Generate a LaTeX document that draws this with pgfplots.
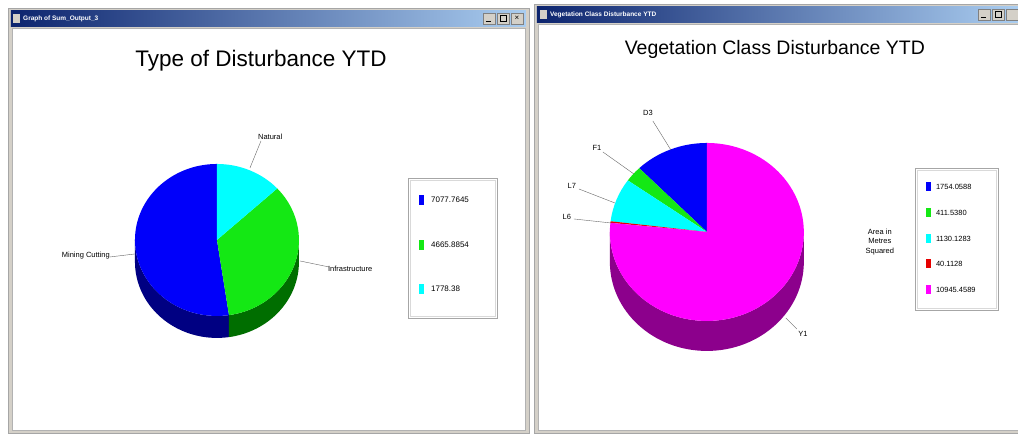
\documentclass[border=0pt]{standalone}
\usepackage{pgfplots}
\usepackage{pgfplotstable}
\pgfplotsset{compat=1.18}
\usepackage{fontspec}
\setmainfont{Liberation Sans}
\definecolor{pieblue}{RGB}{0,0,250}
\definecolor{pieblueD}{RGB}{0,0,130}
\definecolor{piegreen}{RGB}{20,232,20}
\definecolor{piegreenD}{RGB}{0,110,0}
\definecolor{piecyan}{RGB}{0,255,255}
\definecolor{piecyanD}{RGB}{0,140,140}
\definecolor{piered}{RGB}{230,0,0}
\definecolor{pieredD}{RGB}{130,0,0}
\definecolor{piemag}{RGB}{255,0,255}
\definecolor{piemagD}{RGB}{140,0,140}
\definecolor{barL}{RGB}{12,36,110}
\definecolor{barR}{RGB}{170,205,240}
\definecolor{chrome}{RGB}{212,208,200}

\pgfplotstableread{
value top dark
7077.7645 pieblue pieblueD
4665.8854 piegreen piegreenD
1778.38 piecyan piecyanD
}\distTable

\pgfplotstableread{
value top dark
1754.0588 pieblue pieblueD
411.5380 piegreen piegreenD
1130.1283 piecyan piecyanD
40.1128 piered pieredD
10945.4589 piemag piemagD
}\vegTable

% #1 table, #2 cx, #3 cy, #4 rx, #5 ry, #6 depth (all in px = pt, y downwards)
\newcommand\drawpie[6]{%
  \pgfplotstablegetrowsof{#1}%
  \pgfmathtruncatemacro\lastrow{\pgfplotsretval-1}%
  \edef\rowloop{\noexpand\pgfplotsforeachungrouped \noexpand\i in {0,...,\lastrow}}%
  \def\tot{0}%
  \rowloop{%
    \pgfplotstablegetelem{\i}{value}\of{#1}%
    \pgfmathsetmacro\tot{\tot+\pgfplotsretval}%
  }%
  % sides
  \def\acc{90}%
  \rowloop{%
    \pgfplotstablegetelem{\i}{value}\of{#1}%
    \pgfmathsetmacro\fracv{\pgfplotsretval/\tot}%
    \pgfmathsetmacro\angA{\acc}%
    \pgfmathsetmacro\angB{\acc+360*\fracv}%
    \pgfplotstablegetelem{\i}{dark}\of{#1}\let\col\pgfplotsretval
    \pgfmathsetmacro\sA{max(\angA,180)}%
    \pgfmathsetmacro\eA{min(\angB,360)}%
    \pgfmathparse{\eA>\sA?1:0}%
    \ifdim\pgfmathresult pt>0.5pt
      \pgfmathsetmacro\px{#2+#4*cos(\sA)}%
      \pgfmathsetmacro\py{#3-#5*sin(\sA)}%
      \edef\temp{\noexpand\fill[\col] (axis cs:\px,\py) arc[start angle=\sA,end angle=\eA,x radius=#4pt,y radius=#5pt] -- ++(0pt,-#6pt) arc[start angle=\eA,end angle=\sA,x radius=#4pt,y radius=#5pt] -- cycle;}%
      \temp
    \fi
    \let\acc\angB
  }%
  % top faces
  \def\acc{90}%
  \rowloop{%
    \pgfplotstablegetelem{\i}{value}\of{#1}%
    \pgfmathsetmacro\fracv{\pgfplotsretval/\tot}%
    \pgfmathsetmacro\angA{\acc}%
    \pgfmathsetmacro\angB{\acc+360*\fracv}%
    \pgfplotstablegetelem{\i}{top}\of{#1}\let\col\pgfplotsretval
    \pgfmathsetmacro\px{#2+#4*cos(\angA)}%
    \pgfmathsetmacro\py{#3-#5*sin(\angA)}%
    \edef\temp{\noexpand\fill[\col] (axis cs:#2,#3) -- (axis cs:\px,\py) arc[start angle=\angA,end angle=\angB,x radius=#4pt,y radius=#5pt] -- cycle;}%
    \temp
    \let\acc\angB
  }%
}

\begin{document}
\begin{tikzpicture}
\begin{axis}[x=1pt,y=1pt,xmin=0,xmax=1018,ymin=0,ymax=434,y dir=reverse,
  hide axis,clip=false,scale only axis]
% background
\fill[white] (axis cs:0,0) rectangle (axis cs:1018,434);
% ---------- left window
\fill[chrome] (axis cs:8,8) rectangle (axis cs:529,433);
\draw[gray!70] (axis cs:8,8) rectangle (axis cs:529,433);
\shade[left color=barL,right color=barR] (axis cs:11,11) rectangle (axis cs:526,27);
\fill[white] (axis cs:12,28) rectangle (axis cs:525,430);
\draw[gray!60] (axis cs:12,28) rectangle (axis cs:525,430);
\fill[chrome] (axis cs:13,14) rectangle (axis cs:20,23);
\node[anchor=west,text=white,font=\bfseries\fontsize{6.5}{7}\selectfont,inner sep=0pt] at (axis cs:23,19) {Graph of Sum\_Output\_3};
\fill[chrome,draw=gray] (axis cs:483,13) rectangle (axis cs:495,24);
\fill[chrome,draw=gray] (axis cs:497,13) rectangle (axis cs:509,24);
\fill[chrome,draw=gray] (axis cs:511,13) rectangle (axis cs:523,24);
\draw[black] (axis cs:486,21.5) -- (axis cs:491,21.5);
\draw[black] (axis cs:500,15.5) rectangle (axis cs:506,21.5);
\node[font=\fontsize{8}{8}\selectfont,inner sep=0pt] at (axis cs:517,18.5) {×};
% ---------- right window
\fill[chrome] (axis cs:534,4) rectangle (axis cs:1018,433);
\draw[gray!70] (axis cs:534,4) rectangle (axis cs:1018,433);
\shade[left color=barL,right color=barR] (axis cs:537,7) rectangle (axis cs:1018,23);
\fill[white] (axis cs:538,24) rectangle (axis cs:1018,430);
\draw[gray!60] (axis cs:538,24) rectangle (axis cs:1018,430);
\fill[chrome] (axis cs:540,10) rectangle (axis cs:547,19);
\node[anchor=west,text=white,font=\bfseries\fontsize{6.5}{7}\selectfont,inner sep=0pt] at (axis cs:550,15) {Vegetation Class Disturbance YTD};
\fill[chrome,draw=gray] (axis cs:978,9) rectangle (axis cs:990,20);
\fill[chrome,draw=gray] (axis cs:992,9) rectangle (axis cs:1004,20);
\fill[chrome,draw=gray] (axis cs:1006,9) rectangle (axis cs:1018,20);
\draw[black] (axis cs:981,17.5) -- (axis cs:986,17.5);
\draw[black] (axis cs:995,11.5) rectangle (axis cs:1001,17.5);
% ---------- titles
\node[font=\fontsize{22.5}{25}\selectfont] at (axis cs:261,61) {Type of Disturbance YTD};
\node[font=\fontsize{19.5}{22}\selectfont] at (axis cs:775,49) {Vegetation Class Disturbance YTD};
% ---------- pies
\drawpie{\distTable}{217}{240}{82}{76}{22}
\drawpie{\vegTable}{707}{232}{97}{89}{30}
% ---------- left pie labels
\draw[gray!80!black,thin] (axis cs:250,168) -- (axis cs:261,141);
\node[anchor=west,font=\fontsize{7.5}{8}\selectfont,inner sep=1pt] at (axis cs:257,137) {Natural};
\draw[gray!80!black,thin] (axis cs:110,257) -- (axis cs:135,254);
\node[anchor=east,font=\fontsize{7.5}{8}\selectfont,inner sep=1pt] at (axis cs:111,256) {Mining Cutting};
\draw[gray!80!black,thin] (axis cs:300,261) -- (axis cs:329,267);
\node[anchor=west,font=\fontsize{7.5}{8}\selectfont,inner sep=1pt] at (axis cs:327,269) {Infrastructure};
% ---------- right pie labels
\draw[gray!80!black,thin] (axis cs:653,121) -- (axis cs:671,150);
\node[font=\fontsize{7.5}{8}\selectfont,inner sep=1pt] at (axis cs:648,113) {D3};
\draw[gray!80!black,thin] (axis cs:603,152) -- (axis cs:634,174);
\node[font=\fontsize{7.5}{8}\selectfont,inner sep=1pt] at (axis cs:597,148) {F1};
\draw[gray!80!black,thin] (axis cs:579,189) -- (axis cs:615,203);
\node[font=\fontsize{7.5}{8}\selectfont,inner sep=1pt] at (axis cs:572,186) {L7};
\draw[gray!80!black,thin] (axis cs:574,219) -- (axis cs:611,223);
\node[font=\fontsize{7.5}{8}\selectfont,inner sep=1pt] at (axis cs:567,217) {L6};
\draw[gray!80!black,thin] (axis cs:786,318) -- (axis cs:797,329);
\node[font=\fontsize{7.5}{8}\selectfont,inner sep=1pt] at (axis cs:803,334) {Y1};
% ---------- left legend
\draw[gray!70] (axis cs:408,178) rectangle (axis cs:497,318);
\draw[gray!30] (axis cs:410,180) rectangle (axis cs:495,316);
\fill[pieblue] (axis cs:419,195) rectangle (axis cs:424,205);
\fill[piegreen] (axis cs:419,240) rectangle (axis cs:424,250);
\fill[piecyan] (axis cs:419,284) rectangle (axis cs:424,294);
\node[anchor=west,font=\fontsize{8}{9}\selectfont,inner sep=0pt] at (axis cs:431,200) {7077.7645};
\node[anchor=west,font=\fontsize{8}{9}\selectfont,inner sep=0pt] at (axis cs:431,245) {4665.8854};
\node[anchor=west,font=\fontsize{8}{9}\selectfont,inner sep=0pt] at (axis cs:431,289) {1778.38};
% ---------- right legend
\node[align=center,font=\fontsize{7.5}{9.5}\selectfont] at (axis cs:880,242) {Area in\\Metres\\Squared};
\draw[gray!70] (axis cs:915,168) rectangle (axis cs:998,310);
\draw[gray!30] (axis cs:917,170) rectangle (axis cs:996,308);
\fill[pieblue] (axis cs:926,182) rectangle (axis cs:931,191);
\fill[piegreen] (axis cs:926,208) rectangle (axis cs:931,217);
\fill[piecyan] (axis cs:926,234) rectangle (axis cs:931,243);
\fill[piered] (axis cs:926,259) rectangle (axis cs:931,268);
\fill[piemag] (axis cs:926,285) rectangle (axis cs:931,294);
\node[anchor=west,font=\fontsize{7.5}{8}\selectfont,inner sep=0pt] at (axis cs:936,186.5) {1754.0588};
\node[anchor=west,font=\fontsize{7.5}{8}\selectfont,inner sep=0pt] at (axis cs:936,212.5) {411.5380};
\node[anchor=west,font=\fontsize{7.5}{8}\selectfont,inner sep=0pt] at (axis cs:936,238.5) {1130.1283};
\node[anchor=west,font=\fontsize{7.5}{8}\selectfont,inner sep=0pt] at (axis cs:936,263.5) {40.1128};
\node[anchor=west,font=\fontsize{7.5}{8}\selectfont,inner sep=0pt] at (axis cs:936,289.5) {10945.4589};
\end{axis}
\end{tikzpicture}
\end{document}
